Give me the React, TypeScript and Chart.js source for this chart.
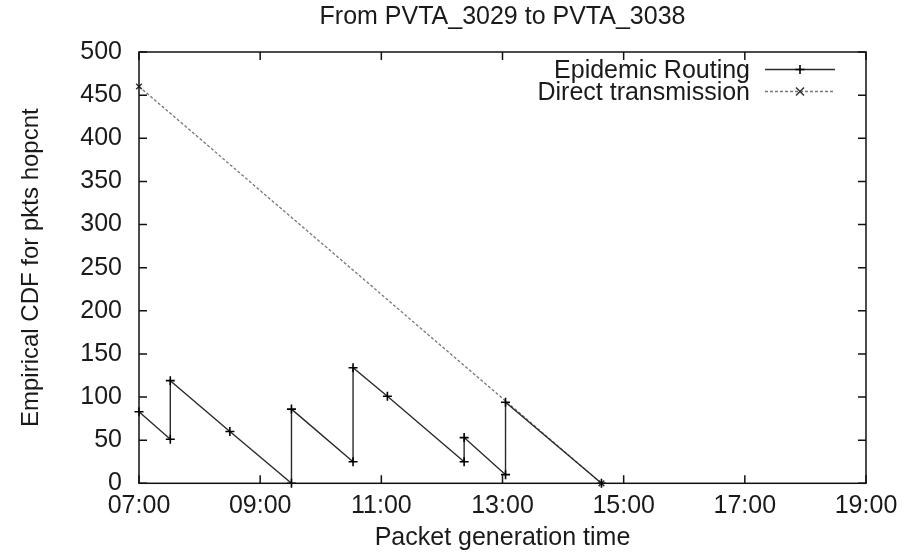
import React, { useEffect, useRef } from "react";
import { Chart, registerables } from "chart.js";

Chart.register(...registerables);

const TITLE = "From PVTA_3029 to PVTA_3038";
const X_TITLE = "Packet generation time";
const Y_TITLE = "Empirical CDF for pkts hopcnt";

const SERIES_LABELS = ["Epidemic Routing", "Direct transmission"];

const epidemicTimes = ["07:00", "07:31", "07:31", "08:30", "09:31", "09:31", "10:32", "10:32", "11:06", "12:22", "12:22", "13:03", "13:03", "14:38"];
const epidemicValues = [83, 51, 119, 60, 0, 86, 25, 134, 101, 25, 53, 10, 94, 0];

const directTimes = ["07:00", "14:38"];
const directValues = [460, 0];

const X_MIN = 7;
const X_MAX = 19;
const X_STEP = 2;
const Y_MIN = 0;
const Y_MAX = 500;
const Y_STEP = 50;

const FONT = '"Liberation Sans", Arial, Helvetica, sans-serif';
const TEXT = "#1a1a1a";

function toHours(t: string): number {
  const [h, m] = t.split(":").map(Number);
  return h + m / 60;
}

function fmtHour(v: number): string {
  const h = Math.round(v);
  return (h < 10 ? "0" : "") + h + ":00";
}

const framePlugin = {
  id: "gnuFrame",
  afterDatasetsDraw(chart: any) {
    const { ctx, chartArea, scales } = chart;
    const { left, right, top, bottom } = chartArea;
    const x = scales.x;
    const y = scales.y;
    ctx.save();
    ctx.strokeStyle = "#111";
    ctx.lineWidth = 1.5;
    ctx.strokeRect(left, top, right - left, bottom - top);
    ctx.beginPath();
    for (const t of x.ticks) {
      const px = x.getPixelForValue(t.value);
      ctx.moveTo(px, bottom);
      ctx.lineTo(px, bottom - 8);
      ctx.moveTo(px, top);
      ctx.lineTo(px, top + 8);
    }
    for (const t of y.ticks) {
      const py = y.getPixelForValue(t.value);
      ctx.moveTo(left, py);
      ctx.lineTo(left + 8, py);
      ctx.moveTo(right, py);
      ctx.lineTo(right - 8, py);
    }
    ctx.stroke();

    // gnuplot-style key: text right-aligned, then sample line with marker
    const ds = chart.data.datasets;
    const textRight = right - 116;
    const sx0 = right - 101;
    const sx1 = right - 31;
    const sm = (sx0 + sx1) / 2;
    const rows = [top + 18, top + 40];
    ctx.font = `25px ${FONT}`;
    ctx.fillStyle = TEXT;
    ctx.textAlign = "right";
    ctx.textBaseline = "middle";
    ds.forEach((d: any, i: number) => {
      const ty = rows[i];
      ctx.fillText(d.label, textRight, ty + 1);
      const ly = ty - 0.5;
      ctx.save();
      ctx.strokeStyle = d.borderColor;
      ctx.lineWidth = d.borderWidth;
      ctx.setLineDash(d.borderDash || []);
      ctx.beginPath();
      ctx.moveTo(sx0, ly);
      ctx.lineTo(sx1, ly);
      ctx.stroke();
      ctx.setLineDash([]);
      ctx.strokeStyle = d.pointBorderColor;
      ctx.lineWidth = d.pointBorderWidth;
      const r = d.pointRadius;
      ctx.beginPath();
      if (d.pointStyle === "cross") {
        ctx.moveTo(sm - r, ly);
        ctx.lineTo(sm + r, ly);
        ctx.moveTo(sm, ly - r);
        ctx.lineTo(sm, ly + r);
      } else {
        ctx.moveTo(sm - r, ly - r);
        ctx.lineTo(sm + r, ly + r);
        ctx.moveTo(sm - r, ly + r);
        ctx.lineTo(sm + r, ly - r);
      }
      ctx.stroke();
      ctx.restore();
    });
    ctx.restore();
  },
};

export default function App() {
  const ref = useRef<HTMLCanvasElement | null>(null);

  useEffect(() => {
    if (!ref.current) return;
    const epidemic = epidemicTimes.map((t, i) => ({ x: toHours(t), y: epidemicValues[i] }));
    const direct = directTimes.map((t, i) => ({ x: toHours(t), y: directValues[i] }));
    const font = { family: FONT, size: 25, weight: "normal" as const };

    const chart = new Chart(ref.current, {
      type: "line",
      data: {
        datasets: [
          {
            label: SERIES_LABELS[0],
            data: epidemic,
            borderColor: "#2a2a2a",
            borderWidth: 1.4,
            pointStyle: "cross",
            pointRadius: 4.5,
            pointBorderColor: "#000",
            pointBorderWidth: 1.6,
            pointBackgroundColor: "#000",
            tension: 0,
            fill: false,
            clip: false,
          } as any,
          {
            label: SERIES_LABELS[1],
            data: direct,
            borderColor: "#777",
            borderWidth: 1.3,
            borderDash: [3, 2],
            pointStyle: "crossRot",
            pointRadius: 4,
            pointBorderColor: "#333",
            pointBorderWidth: 1.5,
            pointBackgroundColor: "#333",
            tension: 0,
            fill: false,
            clip: false,
          } as any,
        ],
      },
      options: {
        animation: false,
        responsive: false,
        events: [],
        layout: { padding: { left: 0, right: 47, top: 0, bottom: 0 } },
        plugins: {
          legend: { display: false },
          tooltip: { enabled: false },
          title: {
            display: true,
            fullSize: false,
            text: TITLE,
            color: TEXT,
            font: { family: FONT, size: 25, weight: "normal" },
            padding: { top: 2, bottom: 20 },
          },
        },
        scales: {
          x: {
            type: "linear",
            min: X_MIN,
            max: X_MAX,
            afterFit: (s: any) => {
              s.height = 70.7;
            },
            ticks: {
              stepSize: X_STEP,
              callback: (v: any) => fmtHour(Number(v)),
              font,
              color: TEXT,
              padding: 8,
              maxRotation: 0,
              autoSkip: false,
            },
            grid: { display: false, drawTicks: false },
            border: { display: false },
            title: {
              display: true,
              text: X_TITLE,
              color: TEXT,
              font,
              padding: { top: 0, bottom: 1 },
            },
          },
          y: {
            min: Y_MIN,
            max: Y_MAX,
            afterFit: (s: any) => {
              s.width = 139;
            },
            ticks: {
              stepSize: Y_STEP,
              font,
              color: TEXT,
              padding: 17,
            },
            grid: { display: false, drawTicks: false },
            border: { display: false },
            title: {
              display: true,
              text: Y_TITLE,
              color: TEXT,
              font: { family: FONT, size: 24, weight: "normal" },
              padding: { top: 17, bottom: 0 },
            },
          },
        },
      } as any,
      plugins: [framePlugin],
    });
    return () => chart.destroy();
  }, []);

  return (
    <div style={{ position: "fixed", left: 0, top: 0, width: 913, height: 554, background: "#fff" }}>
      <canvas ref={ref} width={913} height={554} style={{ display: "block" }} />
    </div>
  );
}
